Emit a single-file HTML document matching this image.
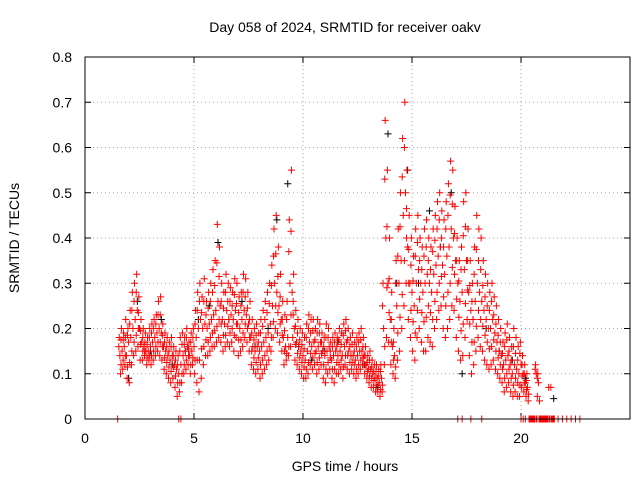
<!DOCTYPE html>
<html><head><meta charset="utf-8"><style>
body{margin:0;background:#fff;}
svg text{font-family:"Liberation Sans",sans-serif;font-size:14px;fill:#000;}
</style></head><body>
<svg id="chart" width="640" height="480" xmlns="http://www.w3.org/2000/svg">
<rect width="640" height="480" fill="#fff"/>
<text x="345" y="32" text-anchor="middle">Day 058 of 2024, SRMTID for receiver oakv</text>
<text x="345" y="471" text-anchor="middle">GPS time / hours</text>
<text transform="translate(19,238) rotate(-90)" text-anchor="middle">SRMTID / TECUs</text>
<g id="grid"></g>
<g id="ticks"></g>
<g id="black"></g>
<g id="red"></g>
<rect x="85" y="57" width="545" height="362" fill="none" stroke="#000" stroke-width="1"/>
</svg>
<script>
const xTicks=[0,5,10,15,20];
const yTicks=[0,0.1,0.2,0.3,0.4,0.5,0.6,0.7,0.8];
const yTickLabels=["0","0.1","0.2","0.3","0.4","0.5","0.6","0.7","0.8"];
const redStart=1.6, redStep=0.1;
const redHi=[.18,.20,.19,.22,.20,.24,.28,.30,.32,.27,
.22,.20,.19,.18,.20,.21,.22,.23,.26,.27,
.21,.19,.18,.17,.18,.16,.15,.14,.18,.19,
.18,.20,.17,.19,.20,.24,.28,.30,.27,.31,
.26,.28,.30,.33,.35,.43,.38,.30,.28,.32,
.30,.29,.28,.31,.30,.27,.28,.32,.31,.28,
.26,.22,.20,.21,.19,.22,.24,.26,.28,.30,
.34,.42,.45,.38,.32,.26,.23,.26,.44,.55,
.32,.24,.22,.20,.19,.18,.21,.23,.22,.22,
.20,.22,.21,.19,.18,.21,.20,.17,.18,.19,
.18,.20,.19,.21,.22,.20,.18,.19,.17,.18,
.19,.20,.18,.16,.14,.15,.13,.12,.12,.11,
.12,.30,.66,.55,.40,.28,.20,.35,.42,.50,
.62,.70,.55,.45,.40,.36,.42,.45,.40,.38,
.42,.44,.40,.38,.42,.45,.48,.50,.46,.44,
.48,.52,.57,.55,.47,.40,.35,.38,.48,.50,
.42,.35,.30,.38,.45,.42,.40,.35,.32,.30,
.28,.30,.27,.25,.22,.20,.17,.19,.21,.18,
.16,.20,.18,.16,.17,.14,.12,.10,0,0,
0,.12,.10,0,0,0,0,.07,.07,0];
const redMid=[.14,.15,.16,.14,.17,.18,.20,.22,.24,.20,
.17,.16,.15,.15,.16,.17,.18,.19,.20,.19,
.16,.15,.14,.13,.14,.12,.11,.10,.12,.14,
.15,.16,.14,.15,.16,.18,.20,.22,.20,.21,
.20,.21,.22,.23,.24,.26,.25,.22,.21,.24,
.22,.23,.22,.24,.21,.20,.22,.24,.23,.21,
.18,.16,.15,.16,.15,.16,.17,.18,.19,.21,
.25,.30,.28,.25,.22,.18,.16,.18,.30,.28,
.20,.17,.16,.15,.14,.13,.15,.17,.16,.17,
.15,.16,.17,.15,.14,.15,.16,.13,.14,.15,
.14,.15,.14,.16,.17,.15,.14,.14,.13,.14,
.15,.15,.14,.12,.11,.11,.10,.09,.09,.08,
.09,.20,.40,.30,.22,.16,.14,.25,.30,.35,
.45,.50,.38,.30,.28,.25,.30,.33,.30,.28,
.30,.32,.30,.28,.32,.34,.36,.38,.34,.32,
.36,.38,.42,.40,.35,.30,.26,.28,.33,.35,
.28,.24,.22,.26,.30,.28,.26,.24,.22,.20,
.20,.22,.19,.17,.15,.14,.12,.13,.14,.12,
.10,.12,.11,.10,.12,.10,.08,.07,0,0,
0,.10,.08,0,0,0,0,0,0,0];
const redLo=[.10,.11,.12,.09,.08,.12,.14,.15,.16,.13,
.13,.14,.12,.13,.12,.13,.14,.15,.14,.13,
.11,.10,.09,.08,.09,.07,.05,.06,.08,.10,
.11,.12,.10,.12,.10,.08,.06,.09,.12,.14,
.14,.15,.16,.16,.17,.18,.17,.15,.16,.17,
.16,.17,.15,.18,.14,.15,.16,.18,.17,.15,
.12,.11,.10,.11,.09,.10,.11,.12,.13,.15,
.18,.20,.19,.17,.15,.12,.13,.14,.16,.18,
.13,.12,.11,.10,.09,.09,.10,.12,.11,.12,
.10,.11,.12,.09,.08,.10,.11,.09,.08,.10,
.10,.11,.09,.12,.11,.10,.11,.10,.09,.10,
.11,.12,.10,.09,.08,.07,.07,.06,.06,.05,
.06,.12,.18,.17,.12,.10,.09,.13,.15,.20,
.25,.30,.22,.18,.15,.13,.18,.20,.17,.15,
.15,.18,.17,.16,.20,.22,.24,.25,.20,.18,
.20,.22,.25,.24,.18,.15,.13,.14,.18,.22,
.14,.10,.12,.15,.18,.16,.15,.13,.12,.11,
.12,.13,.11,.10,.09,.08,.06,.07,.08,.06,
.05,.06,.05,.05,.07,.06,.05,.04,0,0,
0,0,0,0,0,0,0,0,0,0];
const zeroT=[1.5,4.3,4.4,17.1,17.3,17.7,18.2,20.0,20.1,20.2,20.7,20.9,21.1,21.3,21.5,21.7,21.9,22.1,22.3,22.5,22.7];
const blackT=[2.0,2.4,3.0,3.5,4.0,4.6,5.2,5.7,6.1,6.6,7.2,7.8,8.4,8.8,9.3,9.8,10.4,11.0,11.6,12.2,12.8,13.4,13.9,14.3,14.8,15.3,15.8,16.3,16.8,17.3,17.8,18.4,19.0,19.6,20.2,21.5];
const blackV=[.09,.26,.15,.22,.12,.15,.22,.25,.39,.22,.26,.16,.20,.44,.52,.16,.13,.15,.17,.14,.12,.07,.63,.30,.55,.30,.46,.38,.50,.10,.22,.20,.15,.13,.09,.045];

const X=h=>85+h*(545/25), Y=v=>419-v*(362/0.8);
const NS="http://www.w3.org/2000/svg";
function mk(tag,attrs,parent){const e=document.createElementNS(NS,tag);for(const k in attrs)e.setAttribute(k,attrs[k]);parent.appendChild(e);return e;}
const grid=document.getElementById('grid'),ticks=document.getElementById('ticks');
xTicks.forEach(t=>{const x=X(t);
 if(t>0){const g=mk('line',{x1:x,x2:x,y1:57,y2:419,stroke:'#aaa','stroke-dasharray':'1,3'},grid);
 
 }
 mk('line',{x1:x,x2:x,y1:419,y2:413,stroke:'#000'},ticks);
 mk('line',{x1:x,x2:x,y1:57,y2:63,stroke:'#000'},ticks);
 const l=mk('text',{x:x,y:443,'text-anchor':'middle'},ticks);l.textContent=t;
 
 
});
yTicks.forEach((t,i)=>{const y=Y(t);
 if(t>0&&t<0.8){const g=mk('line',{x1:85,x2:630,y1:y,y2:y,stroke:'#aaa','stroke-dasharray':'1,3'},grid);
 
 }
 mk('line',{x1:85,x2:91,y1:y,y2:y,stroke:'#000'},ticks);
 mk('line',{x1:630,x2:624,y1:y,y2:y,stroke:'#000'},ticks);
 const l=mk('text',{x:72,y:y+5,'text-anchor':'end'},ticks);l.textContent=yTickLabels[i];
 
 
});
function plus(g,h,v,c){const x=X(h),y=Y(v);
 const p=mk('path',{d:`M${x-3.5},${y}h7M${x},${y-3.5}v7`,stroke:c,'stroke-width':1,fill:'none'},g);
 
 }
const bg=document.getElementById('black'),rg=document.getElementById('red');
blackT.forEach((t,i)=>plus(bg,t,blackV[i],'#000'));
[redHi,redMid,redLo].forEach((arr,k)=>arr.forEach((v,i)=>{
 const t=redStart+i*redStep+(k-1)*0.03;
 plus(rg,t,v,'#f00');
 if(k===1&&v>0){plus(rg,t+0.05,(v+redLo[i])/2,'#f00');plus(rg,t-0.05,(v+redHi[i])/2,'#f00');}
}));
zeroT.forEach(t=>plus(rg,t,0,'#f00'));
</script>
</body></html>
